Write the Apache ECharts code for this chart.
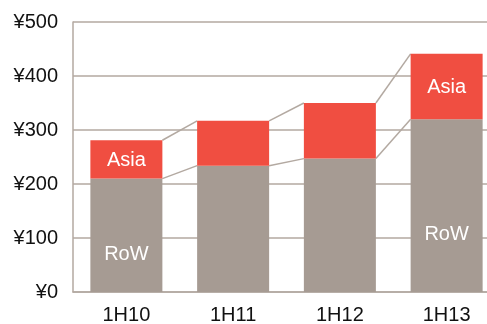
<!DOCTYPE html>
<html>
<head>
<meta charset="utf-8">
<script src="https://cdn.jsdelivr.net/npm/echarts@6/dist/echarts.min.js"></script>
<style>
  html, body { margin: 0; padding: 0; background: #ffffff; }
  #chart { width: 487px; height: 324px; }
</style>
</head>
<body>
<div id="chart"></div>
<script>
// Half-year periods on the x axis
const periods = ['1H10', '1H11', '1H12', '1H13'];
// Rest of world (bottom segment), ¥
const rowValues = [210, 234, 247, 320];
// Asia (top segment), ¥
const asiaValues = [71, 83, 103, 121];
// Value axis ticks
const yMin = 0, yMax = 500, yStep = 100;
// Segment names shown only on the first and last bars
const labelledBars = [0, 3];

const BAR_W = 72;
const FONT = '"Liberation Sans", Arial, Helvetica, sans-serif';
const ROW_COLOR = '#a69b93';
const ASIA_COLOR = '#f04e41';
const RULE_COLOR = '#b3a9a1';

// Cumulative tops of each segment, used by the connector lines
const rowTops = rowValues.slice();
const totalTops = rowValues.map((v, i) => v + asiaValues[i]);
const connectorData = [];
for (let i = 0; i < periods.length - 1; i++) {
  connectorData.push([i, rowTops[i], rowTops[i + 1], totalTops[i], totalTops[i + 1]]);
}

function segLabel(name, pos) {
  return {
    show: true,
    position: pos,
    formatter: (p) => labelledBars.includes(p.dataIndex) ? name : '',
    color: '#ffffff',
    fontFamily: FONT,
    fontSize: 20,
    align: 'center',
    verticalAlign: 'middle'
  };
}

const chart = echarts.init(document.getElementById('chart'), null, { renderer: 'canvas' });
chart.setOption({
  animation: false,
  backgroundColor: '#ffffff',
  // The plot runs on past the right edge of the canvas
  grid: { left: 73, top: 22, width: 427, height: 270, containLabel: false, outerBoundsMode: 'none' },
  xAxis: {
    type: 'category',
    data: periods,
    axisLine: { show: true, lineStyle: { color: RULE_COLOR, width: 1.5 } },
    axisTick: { show: false },
    axisLabel: { color: '#111111', fontFamily: FONT, fontSize: 20, margin: 13 },
    splitLine: { show: false }
  },
  yAxis: {
    type: 'value',
    min: yMin, max: yMax, interval: yStep,
    axisLine: { show: true, lineStyle: { color: RULE_COLOR, width: 1.5 } },
    axisTick: { show: false },
    axisLabel: { color: '#111111', fontFamily: FONT, fontSize: 20, margin: 15, formatter: '¥{value}' },
    splitLine: { show: true, lineStyle: { color: RULE_COLOR, width: 1.5 } }
  },
  series: [
    {
      name: 'RoW', type: 'bar', stack: 'total', data: rowValues, barWidth: BAR_W,
      itemStyle: { color: ROW_COLOR },
      label: segLabel('RoW', ['50%', '67%']),
      z: 3
    },
    {
      name: 'Asia', type: 'bar', stack: 'total', data: asiaValues, barWidth: BAR_W,
      itemStyle: { color: ASIA_COLOR },
      label: segLabel('Asia', ['50%', '52%']),
      z: 3
    },
    {
      // Lines joining segment tops of neighbouring bars
      type: 'custom',
      data: connectorData,
      silent: true,
      z: 2,
      renderItem: (params, api) => {
        const i = api.value(0);
        const lines = [];
        [[1, 2], [3, 4]].forEach(([a, b]) => {
          const p0 = api.coord([i, api.value(a)]);
          const p1 = api.coord([i + 1, api.value(b)]);
          lines.push({
            type: 'line',
            shape: { x1: p0[0] + BAR_W / 2, y1: p0[1], x2: p1[0] - BAR_W / 2, y2: p1[1] },
            style: { stroke: RULE_COLOR, lineWidth: 1.5 }
          });
        });
        return { type: 'group', children: lines };
      }
    }
  ]
});
</script>
</body>
</html>
